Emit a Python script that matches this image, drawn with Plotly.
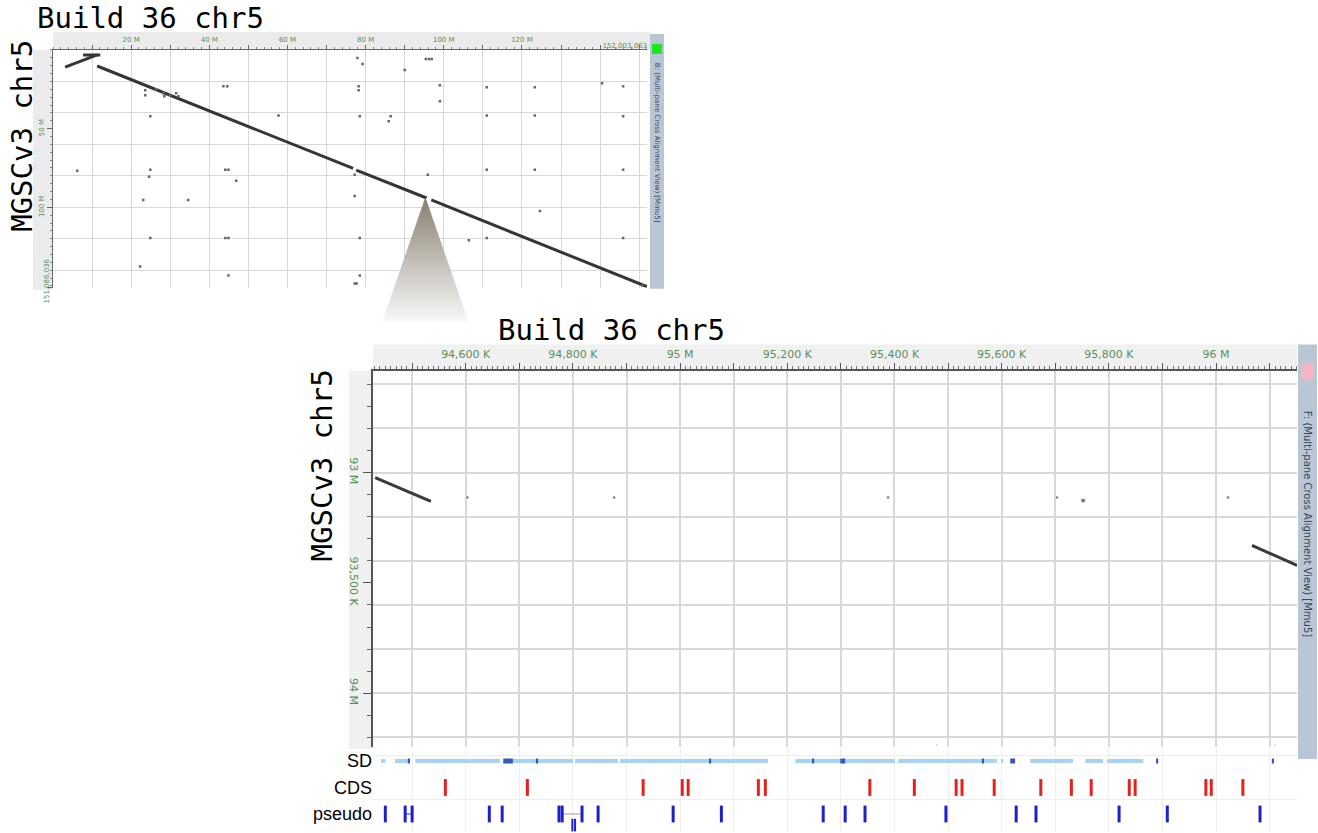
import plotly.graph_objects as go

# layout positions are given in reference-picture pixels (1318 x 833)
REF_W, REF_H = 1318, 833
FIG_W, FIG_H = 1318, 848


def fx(p):
    return p / REF_W


def fy(p):
    return 1 - p / REF_H


# ---------------- data: whole-chromosome dot plot (Mb) ----------------
top_x_end = 152.003063
top_y_end = 151.086036
top_seg_x = [3.1, 11.3, None, 7.7, 12.1, None, 11.3, 76.8, None, 77.6, 95.6, None, 96.8, 152.0]
top_seg_y = [10.9, 3.2, None, 3.2, 3.2, None, 10.2, 75.3, None, 76.4, 94.1, None, 95.3, 150.5]
top_dot_x = [77.9, 79.2, 90.0, 95.4, 96.2, 96.9, 99.0, 99.0, 23.6, 23.6, 26.4, 28.2, 28.5, 30.0, 31.5, 32.1,
             43.6, 44.6, 78.2, 78.2, 111.0, 123.3, 140.5, 145.9, 24.9, 57.7, 78.5, 86.4, 85.9, 111.0, 123.3,
             145.9, 6.2, 24.9, 24.6, 44.1, 44.9, 46.9, 77.2, 95.9, 111.0, 123.3, 145.9, 23.1, 34.6, 77.2,
             124.6, 24.9, 44.1, 44.9, 78.5, 106.4, 111.0, 145.9, 22.3, 44.9, 78.5, 77.2, 77.7, 150.8]
top_dot_y = [5.1, 9.0, 12.8, 5.8, 5.8, 5.8, 22.4, 32.6, 25.6, 28.8, 25.0, 27.5, 29.4, 28.8, 27.5, 29.4,
             23.0, 23.0, 23.0, 25.6, 23.7, 23.7, 21.1, 23.0, 42.2, 41.6, 42.2, 42.2, 45.4, 41.6, 41.6,
             42.2, 76.8, 76.1, 80.6, 76.1, 76.1, 83.2, 79.3, 79.3, 76.1, 76.1, 76.1, 95.3, 95.3, 92.8,
             102.4, 119.6, 119.6, 119.6, 119.6, 120.9, 119.6, 119.6, 137.6, 143.3, 143.3, 148.4, 148.4, 149.7]
top_x_labels = {20: "20 M", 40: "40 M", 60: "60 M", 80: "80 M", 100: "100 M", 120: "120 M"}
top_y_labels = {50: "50 M", 100: "100 M"}

# ---------------- data: zoomed dot plot (kb) ----------------
zoom_x_range = [94427, 96151]
zoom_y_range = [92538, 94244]
zoom_seg_x = [94431, 94535, None, 96067, 96151]
zoom_seg_y = [93023, 93131, None, 93330, 93421]
zoom_dot_x = [94603, 94877, 95388, 95703, 95752, 96022, 95479, 96110]
zoom_dot_y = [93113, 93113, 93113, 93113, 93127, 93113, 94235, 94235]
zoom_dot_size = [3.5, 3.5, 3.5, 3.5, 5, 3.5, 2, 2]
zoom_x_labels = {94600: "94,600 K", 94800: "94,800 K", 95000: "95 M", 95200: "95,200 K",
                 95400: "95,400 K", 95600: "95,600 K", 95800: "95,800 K", 96000: "96 M"}
zoom_y_labels = {93000: "93 M", 93500: "93,500 K", 94000: "94 M"}

# ---------------- data: annotation tracks (kb) ----------------
track_names = ["SD", "CDS", "pseudo"]
sd_light = [(94442, 94450), (94468, 94496), (94506, 94664), (94688, 94800), (94804, 94884),
            (94888, 95164), (95215, 95401), (95407, 95591), (95599, 95603), (95653, 95733),
            (95756, 95789), (95797, 95864)]
sd_dark = [(94492, 94496), (94670, 94688), (94731, 94735), (95054, 95058), (95246, 95250),
           (95299, 95308), (95563, 95567), (95616, 95625), (95888, 95892), (96104, 96108)]
cds_pos = [94562, 94715, 94931, 95004, 95015, 95146, 95159, 95354, 95437, 95515, 95526, 95586,
           95673, 95730, 95767, 95838, 95849, 95981, 95991, 96050]
pseudo_pos = [94450, 94487, 94500, 94644, 94668, 94774, 94780, 94817, 94847, 94987, 95077, 95267,
              95308, 95345, 95496, 95627, 95664, 95819, 95909, 96082]
pseudo_row2 = [94799, 94804]
pseudo_link = (94487, 94500)
pseudo_arrow = (94780, 94817)

GREEN = "#5a8f5a"
GRID = "#d8d8d8"

fig = go.Figure()

# ---- top panel ----
fig.add_trace(go.Scatter(x=top_seg_x, y=top_seg_y, mode="lines", line=dict(color="#353535", width=3),
                         xaxis="x", yaxis="y", hoverinfo="skip"))
fig.add_trace(go.Scatter(x=top_dot_x, y=top_dot_y, mode="markers",
                         marker=dict(color="#666", size=2.5, symbol="square"),
                         xaxis="x", yaxis="y", hoverinfo="skip"))
fig.add_trace(go.Scatter(x=[0], y=[0], mode="markers", marker=dict(opacity=0), xaxis="x", yaxis="y4",
                         hoverinfo="skip"))
fig.add_trace(go.Scatter(x=[0], y=[0], mode="markers", marker=dict(opacity=0), xaxis="x", yaxis="y7",
                         hoverinfo="skip"))
fig.add_trace(go.Scatter(x=[0], y=[0], mode="markers", marker=dict(opacity=0), xaxis="x7", yaxis="y",
                         hoverinfo="skip"))

# ---- zoomed panel ----
fig.add_trace(go.Scatter(x=zoom_seg_x, y=zoom_seg_y, mode="lines", line=dict(color="#3a3a3a", width=3),
                         xaxis="x2", yaxis="y2", hoverinfo="skip"))
fig.add_trace(go.Scatter(x=zoom_dot_x, y=zoom_dot_y, mode="markers",
                         marker=dict(color="#444", size=zoom_dot_size),
                         xaxis="x2", yaxis="y2", hoverinfo="skip"))
fig.add_trace(go.Scatter(x=[95000], y=[93000], mode="markers", marker=dict(opacity=0), xaxis="x2",
                         yaxis="y5", hoverinfo="skip"))


# ---- tracks ----
def seg_xy(segs, row):
    xs, ys = [], []
    for a, b in segs:
        xs += [a, b, None]
        ys += [row, row, None]
    return xs, ys


sx, sy = seg_xy(sd_light, 0)
fig.add_trace(go.Scatter(x=sx, y=sy, mode="lines", line=dict(color="#a8d2f2", width=4),
                         xaxis="x3", yaxis="y3", hoverinfo="skip"))
sx, sy = seg_xy(sd_dark, 0)
fig.add_trace(go.Scatter(x=sx, y=sy, mode="lines", line=dict(color="#3557c0", width=5),
                         xaxis="x3", yaxis="y3", hoverinfo="skip"))
fig.add_trace(go.Scatter(x=cds_pos, y=[1] * len(cds_pos), mode="markers",
                         marker=dict(symbol="line-ns", size=12, line=dict(color="#e4221d", width=3)),
                         xaxis="x3", yaxis="y3", hoverinfo="skip"))
fig.add_trace(go.Scatter(x=[pseudo_link[0], pseudo_link[1]], y=[2, 2], mode="lines",
                         line=dict(color="#2626c8", width=1), xaxis="x3", yaxis="y3", hoverinfo="skip"))
fig.add_trace(go.Scatter(x=[pseudo_arrow[0], pseudo_arrow[1]], y=[2, 2], mode="lines",
                         line=dict(color="#9a9aaa", width=1), xaxis="x3", yaxis="y3", hoverinfo="skip"))
fig.add_trace(go.Scatter(x=pseudo_pos, y=[2] * len(pseudo_pos), mode="markers",
                         marker=dict(symbol="line-ns", size=12, line=dict(color="#1e1ecf", width=3)),
                         xaxis="x3", yaxis="y3", hoverinfo="skip"))
fig.add_trace(go.Scatter(x=pseudo_row2, y=[2.42] * len(pseudo_row2), mode="markers",
                         marker=dict(symbol="line-ns", size=9, line=dict(color="#1e1ecf", width=2)),
                         xaxis="x3", yaxis="y3", hoverinfo="skip"))

# ---- zoom connector (cone from overview to zoomed region) ----
TX0, TX1, TY0, TY1 = 53, 647, 50, 288
apex_xm = (zoom_x_range[0] + zoom_x_range[1]) / 2 / 1000
apex_ym = (zoom_y_range[0] + zoom_y_range[1]) / 2 / 1000
apex_px = TX0 + apex_xm / top_x_end * (TX1 - TX0)
apex_py = TY0 + apex_ym / top_y_end * (TY1 - TY0)
cone_base_y = 322
cone_half = 43
fig.add_trace(go.Scatter(x=[apex_px, apex_px - cone_half, apex_px + cone_half, apex_px],
                         y=[apex_py, cone_base_y, cone_base_y, apex_py],
                         mode="lines", line=dict(width=0), fill="toself",
                         fillgradient=dict(type="vertical", start=apex_py, stop=cone_base_y,
                                           colorscale=[[0, "rgb(140,130,115)"], [1, "rgb(255,255,255)"]]),
                         xaxis="x6", yaxis="y6", hoverinfo="skip"))

top_xticks = list(range(10, 151, 10))
zoom_xticks = list(range(94500, 96101, 100))

fig.update_layout(
    width=FIG_W, height=FIG_H, autosize=False, showlegend=False,
    margin=dict(l=0, r=0, t=0, b=0),
    paper_bgcolor="white", plot_bgcolor="rgba(0,0,0,0)",
    font=dict(family="DejaVu Sans", color="#333"),
    # top panel
    xaxis=dict(domain=[fx(TX0), fx(TX1)], range=[0, top_x_end], side="top", anchor="y",
               tickmode="array", tickvals=top_xticks,
               ticktext=[top_x_labels.get(v, "") for v in top_xticks],
               ticks="outside", ticklen=4, tickcolor="#666",
               minor=dict(dtick=2, ticklen=2, ticks="outside", tickcolor="#888", showgrid=False),
               showline=True, linecolor="#666", linewidth=1, mirror=False,
               showgrid=True, gridcolor=GRID, gridwidth=1, zeroline=False,
               tickfont=dict(size=7, color=GREEN)),
    xaxis7=dict(overlaying="x", anchor="y", side="top", range=[0, top_x_end], domain=[fx(TX0), fx(TX1)],
                tickmode="array", tickvals=[top_x_end], ticktext=["152,003,063"],
                ticklabelposition="outside left", ticks="", showgrid=False, zeroline=False,
                tickfont=dict(size=7, color=GREEN)),
    yaxis=dict(domain=[fy(TY1), fy(TY0)], range=[top_y_end, 0], anchor="x",
               tickmode="array", tickvals=list(range(20, 141, 20)), showticklabels=False, ticks="",
               showgrid=True, gridcolor=GRID, gridwidth=1, zeroline=False, showline=False),
    yaxis4=dict(overlaying="y", anchor="x", side="left", range=[top_y_end, 0],
                tickmode="array", tickvals=list(top_y_labels.keys()), ticktext=list(top_y_labels.values()),
                tickangle=-90, ticks="outside", ticklen=5, tickcolor="#666",
                minor=dict(dtick=5, ticklen=2, ticks="outside", tickcolor="#888", showgrid=False),
                showline=True, linecolor="#666", showgrid=False, zeroline=False,
                tickfont=dict(size=7, color=GREEN)),
    yaxis7=dict(overlaying="y", anchor="x", side="left", range=[top_y_end, 0],
                tickmode="array", tickvals=[top_y_end], ticktext=["151,086,036"],
                ticklabelposition="outside top", tickangle=-90, ticks="outside", ticklen=5,
                tickcolor="#666", showgrid=False, zeroline=False, showline=False,
                tickfont=dict(size=7, color=GREEN)),
    # zoomed panel
    xaxis2=dict(domain=[fx(373), fx(1297)], range=zoom_x_range, side="top", anchor="y2",
                tickmode="array", tickvals=zoom_xticks,
                ticktext=[zoom_x_labels.get(v, "") for v in zoom_xticks],
                ticks="outside", ticklen=6, tickcolor="#555",
                minor=dict(dtick=10, ticklen=3, ticks="outside", tickcolor="#777", showgrid=False),
                showline=True, linecolor="#555", linewidth=1.5,
                showgrid=True, gridcolor=GRID, gridwidth=1.5, zeroline=False,
                tickfont=dict(size=11, color=GREEN)),
    yaxis2=dict(domain=[fy(748), fy(371)], range=[zoom_y_range[1], zoom_y_range[0]], anchor="x2",
                tickmode="array", tickvals=list(range(92600, 94201, 200)), showticklabels=False,
                ticks="", showgrid=True, gridcolor=GRID, gridwidth=1.5, zeroline=False, showline=False),
    yaxis5=dict(overlaying="y2", anchor="x2", side="left", range=[zoom_y_range[1], zoom_y_range[0]],
                tickmode="array", tickvals=list(zoom_y_labels.keys()), ticktext=list(zoom_y_labels.values()),
                tickangle=90, ticks="outside", ticklen=8, tickcolor="#555",
                minor=dict(tickvals=list(range(92600, 94201, 100)), ticklen=4, ticks="outside",
                           tickcolor="#666", showgrid=False),
                showline=True, linecolor="#555", linewidth=1.5, showgrid=False, zeroline=False,
                tickfont=dict(size=11, color=GREEN)),
    # tracks
    xaxis3=dict(domain=[fx(373), fx(1297)], matches="x2", anchor="y3", showticklabels=False, ticks="",
                tickmode="array", tickvals=zoom_xticks, showgrid=True, gridcolor="#eeeeee",
                zeroline=False, showline=False),
    yaxis3=dict(domain=[0, fy(750)], range=[2.68, -0.45], anchor="x3",
                tickmode="array", tickvals=[0, 1, 2], ticktext=track_names, ticks="",
                showgrid=False, zeroline=False, showline=False,
                minor=dict(tickvals=[-0.22, 1.45], showgrid=True, gridcolor="#eeeeee", ticks=""),
                tickfont=dict(family="Liberation Sans", size=18, color="black")),
    # full-page overlay for the cone (reference pixel coordinates)
    xaxis6=dict(domain=[0, 1], range=[0, REF_W], anchor="y6", visible=False),
    yaxis6=dict(domain=[0, 1], range=[REF_H, 0], anchor="x6", visible=False),
)


def rect(x0, y0, x1, y1, color, layer="below"):
    fig.add_shape(type="rect", xref="paper", yref="paper", x0=fx(x0), x1=fx(x1),
                  y0=fy(y1), y1=fy(y0), fillcolor=color, line=dict(width=0), layer=layer)


# label strips
rect(53, 32, 650, 50, "#ebebeb")
rect(33, 50, 53, 290, "#ebebeb")
rect(373, 345, 1297, 371, "#f0f0f0")
rect(349, 371, 373, 750, "#f0f0f0")
# right side bars
rect(650, 34, 664, 289, "#b8c6d6", "above")
rect(652, 44, 662, 54, "#1ee61e", "above")
rect(1298, 345, 1317, 760, "#b8c6d6", "above")
rect(1301, 364, 1314, 380, "#f5b5c3", "above")

title_font = dict(family="DejaVu Sans Mono", size=29, color="black")
annos = [
    dict(x=fx(150), y=fy(18), text="Build 36 chr5", font=title_font, textangle=0),
    dict(x=fx(611), y=fy(330), text="Build 36 chr5", font=title_font, textangle=0),
    dict(x=fx(22), y=fy(136), text="MGSCv3 chr5", font=title_font, textangle=-90),
    dict(x=fx(322), y=fy(466), text="MGSCv3 chr5", font=title_font, textangle=-90),
    dict(x=fx(657), y=fy(143), text="B: (Multi-pane Cross Alignment View) [Mmu5]",
         font=dict(size=7, color="#3a4452"), textangle=90),
    dict(x=fx(1307.5), y=fy(524), text="F: (Multi-pane Cross Alignment View) [Mmu5]",
         font=dict(size=10, color="#3a4452"), textangle=90),
]
for a in annos:
    fig.add_annotation(xref="paper", yref="paper", showarrow=False, xanchor="center", yanchor="middle", **a)

fig.write_html(
    "out.html",
    config={"displayModeBar": False},
    post_script=("document.documentElement.style.overflow='hidden';"
                 "document.body.style.overflow='hidden';"
                 "document.body.style.margin='0px';"),
)
